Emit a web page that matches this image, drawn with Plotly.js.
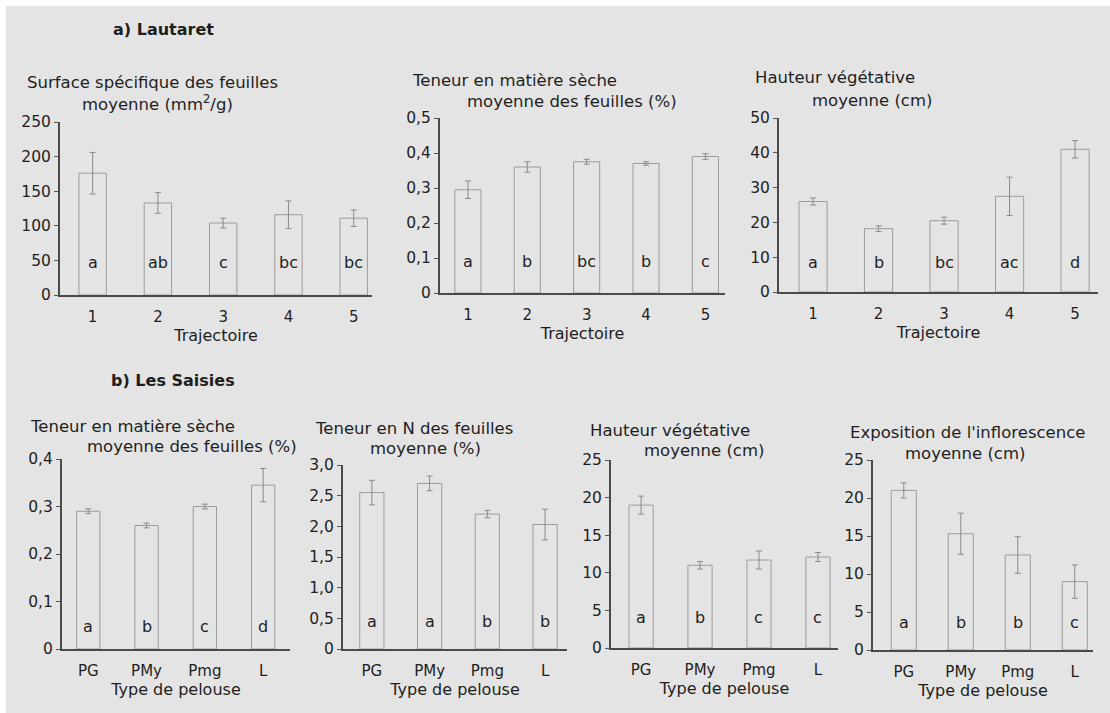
<!DOCTYPE html>
<html>
<head>
<meta charset="utf-8">
<script src="https://cdn.plot.ly/plotly-3.0.1.min.js"></script>
<style>html,body{margin:0;padding:0;background:#fff;}#chart{width:1110px;height:713px;}</style>
</head>
<body>
<div id="chart"></div>
<script>
// ---------- DATA ----------
const trajectoires = ['1', '2', '3', '4', '5'];
const pelouses = ['PG', 'PMy', 'Pmg', 'L'];

// a) Lautaret
const lautSurface = [176, 133, 104, 116, 111];
const lautSurfaceErr = [30, 15, 7, 20, 12];
const lautSurfaceLettres = ['a', 'ab', 'c', 'bc', 'bc'];

const lautMatiere = [0.295, 0.36, 0.375, 0.37, 0.39];
const lautMatiereErr = [0.025, 0.015, 0.007, 0.005, 0.008];
const lautMatiereLettres = ['a', 'b', 'bc', 'b', 'c'];

const lautHauteur = [26, 18.2, 20.5, 27.5, 41];
const lautHauteurErr = [1, 0.8, 1, 5.5, 2.5];
const lautHauteurLettres = ['a', 'b', 'bc', 'ac', 'd'];

// b) Les Saisies
const saisMatiere = [0.29, 0.26, 0.30, 0.345];
const saisMatiereErr = [0.005, 0.005, 0.005, 0.035];
const saisMatiereLettres = ['a', 'b', 'c', 'd'];

const saisAzote = [2.55, 2.7, 2.2, 2.03];
const saisAzoteErr = [0.2, 0.12, 0.06, 0.25];
const saisAzoteLettres = ['a', 'a', 'b', 'b'];

const saisHauteur = [19, 11, 11.7, 12.1];
const saisHauteurErr = [1.2, 0.5, 1.2, 0.6];
const saisHauteurLettres = ['a', 'b', 'c', 'c'];

const saisExpo = [21, 15.3, 12.5, 9];
const saisExpoErr = [1, 2.7, 2.4, 2.2];
const saisExpoLettres = ['a', 'b', 'b', 'c'];

// tick labels (French decimal comma)
const ticksSurface = [0, 50, 100, 150, 200, 250];
const ticksSurfaceTxt = ['0', '50', '100', '150', '200', '250'];
const ticksMatiereL = [0, 0.1, 0.2, 0.3, 0.4, 0.5];
const ticksMatiereLTxt = ['0', '0,1', '0,2', '0,3', '0,4', '0,5'];
const ticksHauteurL = [0, 10, 20, 30, 40, 50];
const ticksHauteurLTxt = ['0', '10', '20', '30', '40', '50'];
const ticksMatiereS = [0, 0.1, 0.2, 0.3, 0.4];
const ticksMatiereSTxt = ['0', '0,1', '0,2', '0,3', '0,4'];
const ticksAzote = [0, 0.5, 1, 1.5, 2, 2.5, 3];
const ticksAzoteTxt = ['0', '0,5', '1,0', '1,5', '2,0', '2,5', '3,0'];
const ticks25 = [0, 5, 10, 15, 20, 25];
const ticks25Txt = ['0', '5', '10', '15', '20', '25'];

// ---------- LAYOUT HELPERS ----------
const W = 1110, H = 713;
const FONT = 'DejaVu Sans, Liberation Sans, Arial, sans-serif';
const TXT = '#1e1e1e';
const px = v => v / W;
const py = v => 1 - v / H;

const panels = [
  {cats: trajectoires, vals: lautSurface, err: lautSurfaceErr, let: lautSurfaceLettres,
   box: [60, 372, 122, 295], xr: [-0.5, 4.28], yr: [0, 250], tv: ticksSurface, tt: ticksSurfaceTxt,
   bw: 0.42, letY: 0.19, xt: 'Trajectoire',
   t1: ['Surface spécifique des feuilles', 25, 82], t2: ['moyenne (mm<sup>2</sup>/g)', 80, 103]},
  {cats: trajectoires, vals: lautMatiere, err: lautMatiereErr, let: lautMatiereLettres,
   box: [440, 725, 118, 293], xr: [-0.47, 4.33], yr: [0, 0.5], tv: ticksMatiereL, tt: ticksMatiereLTxt,
   bw: 0.44, letY: 0.18, xt: 'Trajectoire',
   t1: ['Teneur en matière sèche', 410, 80], t2: ['moyenne des feuilles (%)', 465, 101]},
  {cats: trajectoires, vals: lautHauteur, err: lautHauteurErr, let: lautHauteurLettres,
   box: [779, 1098, 118, 292], xr: [-0.52, 4.35], yr: [0, 50], tv: ticksHauteurL, tt: ticksHauteurLTxt,
   bw: 0.43, letY: 0.17, xt: 'Trajectoire',
   t1: ['Hauteur végétative', 753, 77], t2: ['moyenne (cm)', 810, 100]},
  {cats: pelouses, vals: saisMatiere, err: saisMatiereErr, let: saisMatiereLettres,
   box: [62, 290, 459, 649], xr: [-0.45, 3.46], yr: [0, 0.4], tv: ticksMatiereS, tt: ticksMatiereSTxt,
   bw: 0.4, letY: 0.116, xt: 'Type de pelouse',
   t1: ['Teneur en matière sèche', 28, 427], t2: ['moyenne des feuilles (%)', 85, 447]},
  {cats: pelouses, vals: saisAzote, err: saisAzoteErr, let: saisAzoteLettres,
   box: [343, 567, 465, 649], xr: [-0.5, 3.38], yr: [0, 3], tv: ticksAzote, tt: ticksAzoteTxt,
   bw: 0.42, letY: 0.147, xt: 'Type de pelouse',
   t1: ['Teneur en N des feuilles', 313, 428], t2: ['moyenne (%)', 368, 448]},
  {cats: pelouses, vals: saisHauteur, err: saisHauteurErr, let: saisHauteurLettres,
   box: [611, 838, 460, 648], xr: [-0.51, 3.34], yr: [0, 25], tv: ticks25, tt: ticks25Txt,
   bw: 0.41, letY: 0.16, xt: 'Type de pelouse',
   t1: ['Hauteur végétative', 588, 430], t2: ['moyenne (cm)', 642, 450]},
  {cats: pelouses, vals: saisExpo, err: saisExpoErr, let: saisExpoLettres,
   box: [873, 1093, 460, 650], xr: [-0.54, 3.32], yr: [0, 25], tv: ticks25, tt: ticks25Txt,
   bw: 0.44, letY: 0.147, xt: 'Type de pelouse',
   t1: ["Exposition de l'inflorescence", 848, 432], t2: ['moyenne (cm)', 903, 453]}
];

const traces = [];
const layout = {
  width: W, height: H,
  margin: {l: 0, r: 0, t: 0, b: 0},
  paper_bgcolor: '#ffffff',
  plot_bgcolor: 'rgba(0,0,0,0)',
  showlegend: false,
  font: {family: FONT, size: 15, color: TXT},
  shapes: [{type: 'rect', xref: 'paper', yref: 'paper', x0: px(6), x1: 1, y0: 0, y1: py(6),
            fillcolor: '#e4e4e4', line: {width: 0}, layer: 'below'}],
  annotations: [
    {text: '<b>a) Lautaret</b>', xref: 'paper', yref: 'paper', x: px(111), y: py(30),
     xanchor: 'left', yanchor: 'middle', showarrow: false, font: {family: FONT, size: 16, color: TXT}},
    {text: '<b>b) Les Saisies</b>', xref: 'paper', yref: 'paper', x: px(109), y: py(380),
     xanchor: 'left', yanchor: 'middle', showarrow: false, font: {family: FONT, size: 16, color: TXT}}
  ]
};

panels.forEach((p, i) => {
  const n = i + 1;
  const xa = n === 1 ? 'x' : 'x' + n;
  const ya = n === 1 ? 'y' : 'y' + n;
  const xk = n === 1 ? 'xaxis' : 'xaxis' + n;
  const yk = n === 1 ? 'yaxis' : 'yaxis' + n;
  const [l, r, t, b] = p.box;

  traces.push({
    type: 'bar', x: p.cats, y: p.vals, xaxis: xa, yaxis: ya, width: p.bw,
    marker: {color: 'rgba(0,0,0,0)', line: {color: '#9c9c9c', width: 1}},
    error_y: {type: 'data', array: p.err, visible: true, color: '#8a8a8a', thickness: 1, width: 3},
    hoverinfo: 'x+y'
  });

  layout[xk] = {
    domain: [px(l), px(r)], anchor: ya, type: 'category', range: p.xr,
    showline: true, linecolor: '#4a4a4a', linewidth: 2,
    ticks: 'outside', ticklen: 7, tickcolor: 'rgba(0,0,0,0)',
    showgrid: false, zeroline: false,
    tickfont: {family: FONT, size: 15, color: TXT},
    title: {text: p.xt, standoff: 0, font: {family: FONT, size: 16, color: TXT}}
  };
  layout[yk] = {
    domain: [py(b), py(t)], anchor: xa, range: p.yr,
    showline: true, linecolor: '#4a4a4a', linewidth: 2,
    ticks: 'outside', ticklen: 4, tickcolor: '#555', tickwidth: 1,
    tickvals: p.tv, ticktext: p.tt,
    showgrid: false, zeroline: false,
    tickfont: {family: FONT, size: 15.5, color: TXT}
  };

  // significance letters, placed by category index
  p.cats.forEach((c, j) => {
    layout.annotations.push({
      text: p.let[j], xref: xa, yref: ya + ' domain', x: j, y: p.letY,
      xanchor: 'center', yanchor: 'middle', showarrow: false,
      font: {family: FONT, size: 16, color: TXT}
    });
  });

  [p.t1, p.t2].forEach(tl => {
    layout.annotations.push({
      text: tl[0], xref: 'paper', yref: 'paper', x: px(tl[1]), y: py(tl[2]),
      xanchor: 'left', yanchor: 'middle', showarrow: false,
      font: {family: FONT, size: 16.5, color: TXT}
    });
  });
});

Plotly.newPlot('chart', traces, layout, {displayModeBar: false, staticPlot: true});
</script>
</body>
</html>
